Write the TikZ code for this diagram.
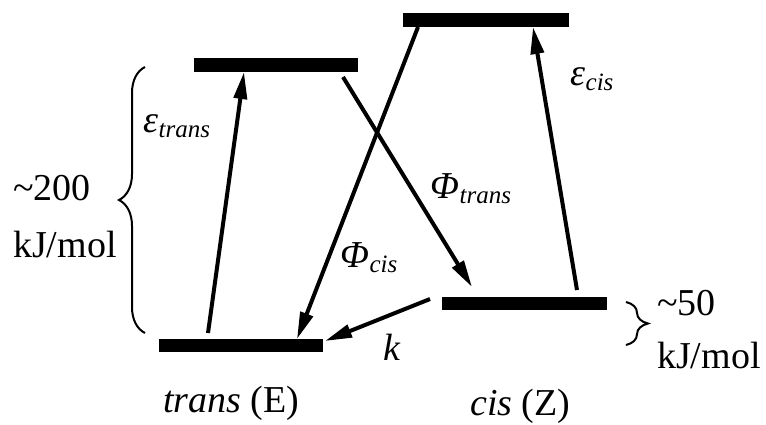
\documentclass[tikz,border=0pt]{standalone}
\usepackage{fontspec}
\setmainfont{Liberation Serif}
\usetikzlibrary{arrows.meta,decorations.pathreplacing}
\newcommand\symsub[2]{{\fontsize{38}{42}\selectfont\itshape #1\kern0.5pt\raisebox{-5pt}{\fontsize{25}{28}\selectfont #2}}}
\begin{document}
\begin{tikzpicture}[x=1pt,y=-1pt,
  level/.style={rectangle,fill=black,inner sep=0pt,minimum height=13.5pt},
  trarrow/.style={line width=4pt,-{Triangle[length=27pt,width=13pt]}},
  lbl/.style={anchor=base west,inner sep=0pt,font=\fontsize{38}{44}\selectfont},
  brc/.style={decorate,line width=2pt}]
\useasboundingbox (0,0) rectangle (766,424);
% energy levels
\node[level,minimum width=164pt] (tE) at (241,345.5) {};
\node[level,minimum width=164pt] (tEx) at (276,65) {};
\node[level,minimum width=166pt] (cZx) at (486,20) {};
\node[level,minimum width=165pt] (cZ) at (524.5,303.5) {};
% arrow end points
\coordinate (et0) at (208,333);
\coordinate (et1) at (244,72);
\coordinate (ec0) at (577,290);
\coordinate (ec1) at (533,27);
\coordinate (pc0) at (418,27);
\coordinate (pc1) at (297,339);
\coordinate (pt0) at (343,77);
\coordinate (pt1) at (472,287);
\coordinate (k0) at (430,299);
\coordinate (k1) at (325,341);
\draw[trarrow] (et0) -- (et1);
\draw[trarrow] (ec0) -- (ec1);
\draw[trarrow] (pc0) -- (pc1);
\draw[trarrow] (pt0) -- (pt1);
\draw[trarrow] (k0) -- (k1);
% braces
\coordinate (b1a) at (145,333);
\coordinate (b1b) at (145,67);
\draw[brc,decoration={brace,amplitude=26pt}] (b1a) -- (b1b);
\coordinate (b2a) at (626,302);
\coordinate (b2b) at (626,345);
\draw[brc,decoration={brace,amplitude=22pt}] (b2a) -- (b2b);
% labels
\node[lbl] (l200) at (13,200) {\textasciitilde 200};
\node[lbl] (lkj1) at (13,257) {kJ/mol};
\node[lbl] (l50) at (657,315) {\textasciitilde 50};
\node[lbl] (lkj2) at (657,368) {kJ/mol};
\node[lbl] (ltrans) at (163,412) {\textit{trans} (E)};
\node[lbl] (lcis) at (470,415) {\textit{cis} (Z)};
\node[anchor=base west,inner sep=0pt] (let) at (143,132) {\symsub{ε}{trans}};
\node[anchor=base west,inner sep=0pt] (lec) at (570,85) {\symsub{ε}{cis}};
\node[anchor=base west,inner sep=0pt] (lpt) at (430,198) {\symsub{Φ}{trans}};
\node[anchor=base west,inner sep=0pt] (lpc) at (340,267) {\symsub{Φ}{cis}};
\node[anchor=base west,inner sep=0pt,font=\fontsize{38}{44}\selectfont\itshape] (lk) at (383,360) {k};
\end{tikzpicture}
\end{document}
